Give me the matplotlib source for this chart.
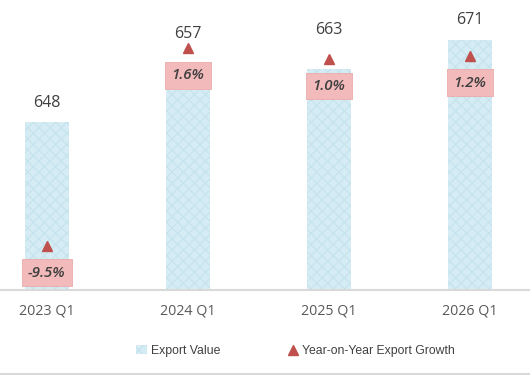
import matplotlib
matplotlib.use("Agg")
import matplotlib.pyplot as plt
from matplotlib.lines import Line2D
from matplotlib.patches import Patch

categories = ["2023 Q1", "2024 Q1", "2025 Q1", "2026 Q1"]
export_value = [648, 657, 663, 671]
yoy_growth = [-9.5, 1.6, 1.0, 1.2]
growth_labels = ["-9.5%", "1.6%", "1.0%", "1.2%"]

# label offsets in points (layout only)
value_label_offsets = [8, 35, 22, 8.5]

plt.rcParams['hatch.linewidth'] = 0.8
fig = plt.figure(figsize=(5.3, 3.75), dpi=100)
ax = fig.add_axes([0, 85/375, 1, (290-4)/375])
ax2 = ax.twinx()

x = list(range(len(categories)))
bars = ax.bar(x, export_value, width=0.312, color='#d6ecf4', edgecolor='#c4e3ed',
              hatch='xxx', linewidth=0, zorder=1)
ax.set_ylim(601.1, 681.1)
ax.set_xlim(-0.333, 3.426)
ax2.set_ylim(-12, 4.1)

ax.set_xticks(x)
ax.set_xticklabels(categories, fontsize=10.3, color='#595959', family='Open Sans')
ax.tick_params(axis='x', length=0, pad=10)
ax.set_yticks([])
ax2.set_yticks([])
for a in (ax, ax2):
    for s in ['top', 'right', 'left']:
        a.spines[s].set_visible(False)
    a.spines['bottom'].set_color('#d9d9d9')
    a.spines['bottom'].set_linewidth(1.5)
ax2.spines['bottom'].set_visible(False)

for xi, v, off in zip(x, export_value, value_label_offsets):
    ax.annotate(f"{v}", (xi, v), xytext=(0, off), textcoords='offset points',
                ha='center', va='bottom', fontsize=11.5, color='#404040',
                family='Open Sans')

ax2.plot(x, yoy_growth, linestyle='none', marker='^', markersize=7,
         color='#c0504d', zorder=3)
for xi, g, lab in zip(x, yoy_growth, growth_labels):
    ax2.annotate(lab, (xi, g), xytext=(0, -19.5), textcoords='offset points',
                 ha='center', va='center', fontsize=10.8, color='#404040',
                 style='italic', family='Open Sans', fontweight='semibold',
                 bbox=dict(boxstyle='square,pad=0.42', facecolor='#f2baba',
                           edgecolor='#ebaaaa', linewidth=0.6), zorder=4)

handles = [Patch(facecolor='#d6ecf4', edgecolor='#c4e3ed', hatch='xxx', linewidth=0),
           Line2D([], [], linestyle='none', marker='^', markersize=7, color='#c0504d')]
fig.legend(handles, ["Export Value", "Year-on-Year Export Growth"],
           loc='center', bbox_to_anchor=(0.557, 1 - 351/375), ncol=2,
           frameon=False, handlelength=0.9, handletextpad=0.3,
           columnspacing=5.5, prop={'family': 'Liberation Sans', 'size': 8.8})
for t in fig.legends[0].get_texts():
    t.set_color('#404040')

fig.add_artist(Line2D([0, 1], [1.5/375, 1.5/375], color='#d9d9d9', linewidth=1.5,
                      transform=fig.transFigure))

fig.savefig("out.png", dpi=100)
